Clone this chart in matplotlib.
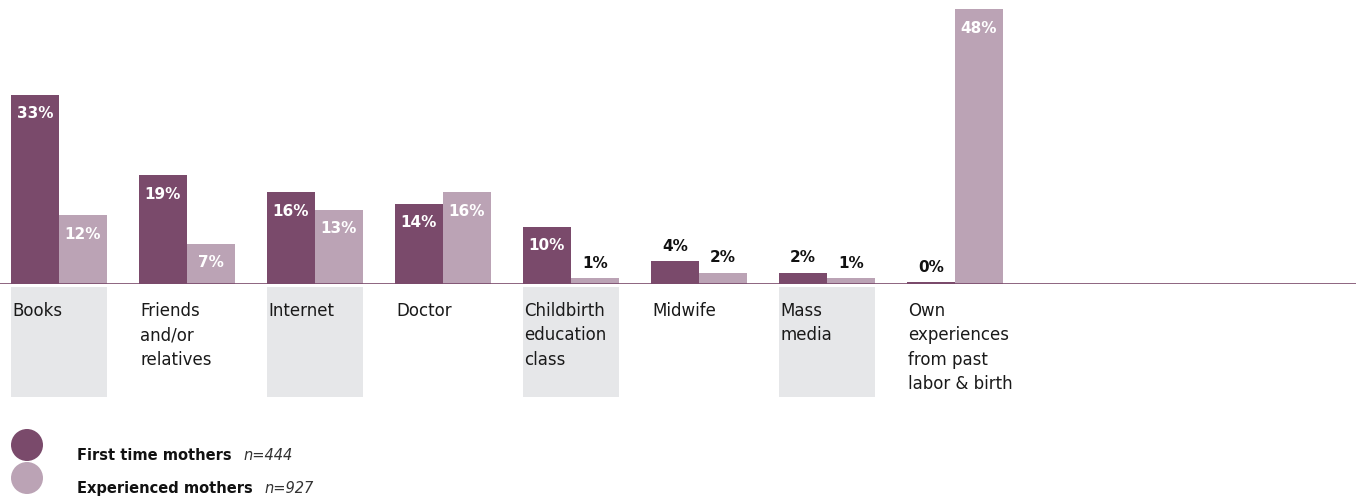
import matplotlib.pyplot as plt
from matplotlib.patches import Rectangle, Ellipse

categories = ["Books", "Friends\nand/or\nrelatives", "Internet", "Doctor",
              "Childbirth\neducation\nclass", "Midwife", "Mass\nmedia",
              "Own\nexperiences\nfrom past\nlabor & birth"]
first_time = [33, 19, 16, 14, 10, 4, 2, 0.3]
experienced = [12, 7, 13, 16, 1, 2, 1, 48]
first_labels = ["33%", "19%", "16%", "14%", "10%", "4%", "2%", "0%"]
exp_labels = ["12%", "7%", "13%", "16%", "1%", "2%", "1%", "48%"]
shaded = [0, 2, 4, 6]

dark = "#7a4a6b"
light = "#bba3b5"
grey = "#e6e7e9"

plt.rcParams['font.family'] = ['DejaVu Sans']

W, H = 1356, 498
fig = plt.figure(figsize=(W / 100, H / 100), dpi=100)
# baseline sits at pixel row 284, 48% reaches row ~9
ax = fig.add_axes([0, (H - 284) / H, 1, 275 / H])
px = 275 / 48.0  # pixels per percent
ax.set_xlim(-59 / 128, (W - 59) / 128)
ax.set_ylim(0, 48)
ax.axis("off")

bw = 48 / 128
xs = list(range(len(categories)))

# grey boxes under every second category
for i in shaded:
    ax.add_patch(Rectangle((i - bw, -113 / px), 2 * bw, 110 / px,
                           facecolor=grey, edgecolor="none", clip_on=False, zorder=0))

ax.bar([x - bw / 2 for x in xs], first_time, width=bw, color=dark, zorder=2)
ax.bar([x + bw / 2 for x in xs], experienced, width=bw, color=light, zorder=2)
ax.axhline(0, color=dark, lw=1.2, zorder=3)


def label(x, v, txt):
    if v >= 7:
        ax.text(x, v - 19 / px, txt, ha="center", va="center", color="white",
                fontsize=11, fontweight="bold", zorder=4)
    else:
        ax.text(x, v + 15 / px, txt, ha="center", va="center", color="#111111",
                fontsize=11, fontweight="bold", zorder=4)


for x, v, t in zip(xs, first_time, first_labels):
    label(x - bw / 2, v, t)
for x, v, t in zip(xs, experienced, exp_labels):
    label(x + bw / 2, v, t)

for x, c in zip(xs, categories):
    ax.text(x - bw + 1 / 128, -18 / px, c, ha="left", va="top", fontsize=12,
            color="#1a1a1a", linespacing=1.46, clip_on=False)

# legend
for yc, col in [(445, dark), (478, light)]:
    fig.add_artist(Ellipse((27 / W, 1 - yc / H), 32 / W, 32 / H,
                           transform=fig.transFigure, facecolor=col, edgecolor="none"))
fig.canvas.draw()
r = fig.canvas.get_renderer()
for yc, name, n in [(456, "First time mothers", "n=444"), (488, "Experienced mothers", "n=927")]:
    t = fig.text(77 / W, 1 - yc / H, name, fontsize=10.5, fontweight="bold",
                 va="center", ha="left", color="#111111")
    x1 = t.get_window_extent(r).x1
    fig.text((x1 + 12) / W, 1 - yc / H, n, fontsize=10.5, style="italic",
             va="center", ha="left", color="#333333")

fig.savefig("out.png", dpi=100)
